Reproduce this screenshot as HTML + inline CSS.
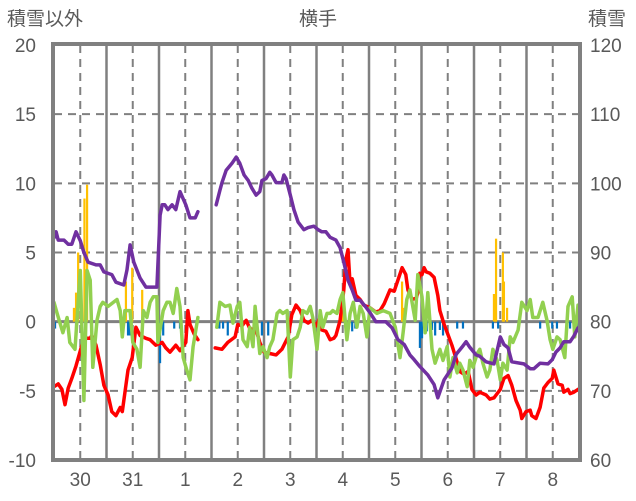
<!DOCTYPE html>
<html><head><meta charset="utf-8"><style>
body{margin:0;background:#fff;}
svg{display:block;font-family:"Liberation Sans","Noto Sans CJK JP",sans-serif;}
</style></head><body>
<svg id="chart" width="636" height="501" viewBox="0 0 636 501" xmlns="http://www.w3.org/2000/svg">
<text x="318" y="25" text-anchor="middle" font-size="19" fill="#595959">横手</text>
<text x="7" y="25" font-size="19" fill="#595959">積雪以外</text>
<text x="588" y="25" font-size="19" fill="#595959">積雪</text>
<g id="grid"></g><g id="bars"></g><g id="lines"></g><g id="labels"></g>
<rect x="53" y="44" width="527" height="416" fill="none" stroke="#808080" stroke-width="4"/>
</svg>
<script>
const dayLabels=["30","31","1","2","3","4","5","6","7","8"];
const leftTicks=[20,15,10,5,0,-5,-10];
const rightTicks=[120,110,100,90,80,70,60];
const purpleT=[0,0.04,0.08,0.19,0.27,0.34,0.42,0.5,0.57,0.65,0.8,0.88,0.95,1.1,1.18,1.33,1.39,1.45,1.52,1.64,1.75,1.96,2.02,2.06,2.11,2.17,2.25,2.32,2.4,2.51,2.59,2.69,2.74,null,3.09,3.16,3.2,3.28,3.39,3.47,3.54,3.62,3.7,3.77,3.85,3.92,3.96,4.04,4.11,4.15,4.23,4.34,4.38,4.42,4.5,4.57,4.65,4.76,4.84,4.95,5.03,5.1,5.18,5.26,5.37,5.45,5.52,5.6,5.68,5.75,5.83,5.94,6.02,6.13,6.32,6.44,6.55,6.67,6.78,6.86,6.97,7.12,7.24,7.31,7.43,7.58,7.66,7.77,7.85,7.92,8.04,8.11,8.23,8.38,8.5,8.57,8.65,8.72,8.95,9.07,9.14,9.26,9.41,9.49,9.56,9.64,9.71,9.83,9.9,9.98];
const purpleV=[92.1,93,91.8,91.8,91.2,91.2,93,91.7,90,88.6,88.2,88.2,87.2,86.8,85.7,85.3,87.5,91.1,88.6,86.3,85,85,95.4,96.9,96.9,96.2,96.9,96.2,98.8,96.9,95,95,95.9,null,96.9,99,100.1,101.9,102.9,103.8,102.9,101.2,100.4,99.3,98.3,98.8,100.4,100.7,101.6,101.2,100.1,100.1,101.2,100.7,98.3,96.2,94.4,93.3,93.6,93.8,93.3,93,93,92.2,91.8,90.7,88.6,86,84.6,83.1,83.1,82.1,81.3,80,80,79.1,77.4,76.7,75.2,74.5,73.5,72.3,70.9,69,71.6,73.3,75.3,76.3,77.1,76.3,75.2,75,74.2,73.9,77.8,76.7,76.2,74.2,73.9,73.2,73.2,74,73.9,74.5,75.6,76.2,77.1,77.1,77.9,79.1];
const redT=[0,0.08,0.15,0.21,0.27,0.34,0.42,0.5,0.57,0.69,0.72,0.8,0.88,0.95,1.03,1.1,1.18,1.26,1.3,1.37,1.41,1.49,1.56,1.64,1.75,1.83,1.94,2.06,2.13,2.21,2.32,2.4,2.51,2.55,2.59,2.67,2.74,null,3.07,3.2,3.31,3.45,3.5,3.58,3.66,3.73,3.85,3.92,4,4.11,4.23,4.34,4.46,4.53,4.61,4.69,4.76,4.84,4.91,4.99,5.07,5.1,5.18,5.26,5.33,5.37,5.45,5.52,5.56,5.6,5.64,5.68,5.75,5.83,5.9,6.02,6.13,6.21,6.29,6.4,6.48,6.55,6.63,6.7,6.74,6.82,6.9,6.93,6.97,7.01,7.05,7.09,7.16,7.24,7.31,7.35,7.43,7.5,7.58,7.66,7.73,7.81,7.89,7.96,8.04,8.11,8.23,8.3,8.38,8.42,8.5,8.57,8.65,8.72,8.8,8.88,8.91,8.99,9.07,9.1,9.18,9.26,9.33,9.41,9.49,9.52,9.6,9.68,9.71,9.79,9.83,9.9,9.98];
const redV=[-4.7,-4.5,-4.9,-6,-4.8,-4.1,-3.2,-2.1,-1.2,-1.2,-1,-1.7,-3.1,-4.6,-5.3,-6.5,-6.8,-6.2,-6.5,-4.6,-3.5,-2.6,-0.4,-1,-1.2,-1.3,-1.7,-1.5,-1.9,-2.2,-1.7,-2.1,-1.5,0.8,-0.2,-0.9,-1.3,null,-1.9,-2,-1.5,-1.1,-0.2,-0.3,0.1,-0.5,-0.6,-1.5,-2.2,-2.3,-2.4,-2,-1.1,0.5,1.2,0.8,0.1,-0.1,0.1,-0.3,0.3,-0.6,-0.7,-1.3,-1.2,-1,0.1,2.3,4.5,5.2,2.7,3.1,1.9,1.6,1.2,1,0.7,0.8,1.3,2.3,2.2,3,3.9,3.4,2.3,1.6,1.7,2.1,3.5,3.4,3.9,3.6,3.5,3.2,1.9,0.8,-0.2,-0.9,-1.7,-2.7,-3.6,-3.8,-3.6,-4.9,-5.3,-5.1,-5.3,-5.6,-5.5,-5.3,-4.9,-4.1,-3.9,-4.6,-5.7,-6.4,-7,-6.5,-6.4,-6.8,-7,-6.2,-4.8,-4.4,-4.1,-3.5,-4.5,-4.6,-5.1,-4.9,-5.2,-5.1,-4.9];
const greenT=[0,0.06,0.17,0.25,0.3,0.4,0.5,0.57,0.63,0.69,0.74,0.82,0.88,0.93,1.03,1.2,1.26,1.3,1.35,1.45,1.5,1.58,1.64,1.7,1.77,1.83,1.89,1.96,1.98,2.08,2.15,2.21,2.27,2.34,2.4,2.46,2.53,2.59,2.65,2.74,null,3.1,3.16,3.26,3.35,3.41,3.49,3.54,3.6,3.68,3.73,3.79,3.83,3.92,3.98,4.06,4.11,4.17,4.25,4.3,4.36,4.44,4.5,4.55,4.63,4.69,4.74,4.82,4.88,4.93,5.01,5.07,5.12,5.2,5.26,5.31,5.39,5.45,5.5,5.58,5.64,5.7,5.77,5.83,5.89,5.96,6.02,6.15,6.27,6.4,6.5,6.59,6.65,6.72,6.78,6.88,6.93,7.01,7.07,7.12,7.2,7.26,7.35,7.41,7.49,7.54,7.6,7.68,7.73,7.79,7.87,7.92,7.98,8.06,8.11,8.17,8.25,8.3,8.36,8.44,8.5,8.55,8.63,8.69,8.74,8.84,8.91,9.01,9.07,9.12,9.22,9.31,9.39,9.45,9.5,9.58,9.64,9.73,9.79,9.87,9.92,9.98];
const greenV=[1.4,0.6,-0.8,0.3,-1.5,-2,3.7,-5.7,3.7,3,-3.3,0.1,1.1,1.4,1.1,1.6,0.8,-1.1,0.8,0.8,-1.5,-2,-3.3,0.8,0.3,1.4,1.8,1.8,-1.5,0.8,1.4,1.4,0.6,2.4,1.1,-2.6,-3.5,-4.2,-1.8,0.3,null,-0.4,1.4,1.1,1.2,-0.1,1.1,1.4,-1.3,-1.8,-0.4,-1.8,1.1,-2.3,-1.8,-2.6,-1.8,-1.3,0.6,0.8,0.6,0.8,-4,-1.3,-1.1,-0.4,0.8,0.6,1.1,0.3,-2,0.8,-0.4,0.6,0.6,0.8,0.6,1.6,2.1,-1.3,0.6,1.4,-0.4,1.1,0.6,-1.1,1,0.6,0.8,0.6,-0.4,-2.6,-0.8,1.6,2.3,0.1,3.4,1.8,-0.8,2.1,-2,-3,-2,-2.8,-1.8,-4,-2.6,-3.7,-3,-3.5,-4.7,-2.8,-3.3,-2.3,-2,-3,-4,-3.5,-2,-2.8,-4.2,-3,-3.5,-1.1,-1.5,-0.6,1.4,0.8,1.6,0.3,0.3,1.4,0.1,-1.3,-2,-1.1,-1.3,-2.6,1.1,1.8,-1.1,1.2];
const orangeT=[0.38,0.42,0.46,0.58,0.63,1.37,1.49,1.68,2.54,5.5,6.63,6.65,8.38,8.42,8.55,8.57,8.63];
const orangeV=[1,2.1,5,8.9,9.9,2.9,3.9,2.3,0.8,1,2.9,1,2,6,5,2.9,1];
const blueT=[0.02,0.42,1.41,1.45,1.97,2.02,2.08,2.29,2.4,3.15,3.22,3.31,3.96,4.08,4.94,5.11,5.68,5.74,6.97,7.01,7.1,7.2,7.26,7.35,7.41,7.68,7.79,8.36,8.46,9.26,9.49,9.58,9.83,9.9,9.96];
const blueV=[-0.5,-0.5,-1,-1,-1,-3,-1,-0.5,-0.5,-0.5,-0.5,-1,-1,-1,-0.3,-0.5,-0.7,-0.5,-1.9,-1.2,-0.7,-0.6,-1,-0.6,-1,-0.5,-0.5,-0.5,-0.5,-0.5,-0.5,-0.5,-0.5,-0.5,-0.5];

const NS='http://www.w3.org/2000/svg';
const X0=54,DAYW=52.5,YTOP=45,YBOT=460;
const xs=t=>X0+t*DAYW;
const yL=v=>YTOP+(20-v)/30*(YBOT-YTOP);
const yR=v=>YTOP+(120-v)/60*(YBOT-YTOP);
function mk(tag,attrs,parent){const e=document.createElementNS(NS,tag);for(const k in attrs)e.setAttribute(k,attrs[k]);document.getElementById(parent).appendChild(e);return e;}

for(let i=0;i<10;i++){
  const l=mk('line',{x1:xs(i+0.5),x2:xs(i+0.5),y1:YTOP,y2:YBOT,stroke:'#808080','stroke-width':2,'stroke-dasharray':'8,6'},'grid');
  
  
  if(i>0){const m=mk('line',{x1:xs(i),x2:xs(i),y1:YTOP,y2:YBOT,stroke:'#808080','stroke-width':2.5},'grid');
  
  }
  const t=mk('text',{x:xs(i+0.5),y:486,'text-anchor':'middle','font-size':19,fill:'#595959'},'labels');
  t.textContent=dayLabels[i];
  
  
}
leftTicks.forEach((v,i)=>{
  const y=yL(v);
  if(v!==20&&v!==-10){
    const g=mk('line',{x1:X0,x2:580,y1:y,y2:y,stroke:'#808080','stroke-width':v===0?3:2,'stroke-dasharray':v===0?'none':'8,6'},'grid');
    
    
  }
  const t=mk('text',{x:36,y:y+7,'text-anchor':'end','font-size':19,fill:'#595959'},'labels');
  t.textContent=v;
  
  
  const r=mk('text',{x:590,y:y+7,'text-anchor':'start','font-size':19,fill:'#595959'},'labels');
  r.textContent=rightTicks[i];
  
  
});
const BW=2.2;
orangeT.forEach((t,i)=>{const y=yL(orangeV[i]),y0=yL(0);
  const b=mk('rect',{x:xs(t)-BW/2,y:y,width:BW,height:y0-y,fill:'#ffc000'},'bars');
  
  });
blueT.forEach((t,i)=>{const y=yL(blueV[i]),y0=yL(0);
  const b=mk('rect',{x:xs(t)-BW/2,y:y0,width:BW,height:y-y0,fill:'#0070c0'},'bars');
  
  });
function path(T,V,yf){let d='',pen=false;T.forEach((t,i)=>{if(t===null||V[i]===null){pen=false;return;}d+=(pen?'L':'M')+xs(t).toFixed(1)+' '+yf(V[i]).toFixed(1)+' ';pen=true;});return d;}
function line(T,V,yf,col,name){const p=mk('path',{d:path(T,V,yf),fill:'none',stroke:col,'stroke-width':3.5,'stroke-linejoin':'round','stroke-linecap':'round'},'lines');
  
  }
line(redT,redV,yL,'#ff0000','red-series-line');
line(greenT,greenV,yL,'#92d050','green-series-line');
line(purpleT,purpleV,yR,'#7030a0','snow-depth-line');
</script>
</body></html>
